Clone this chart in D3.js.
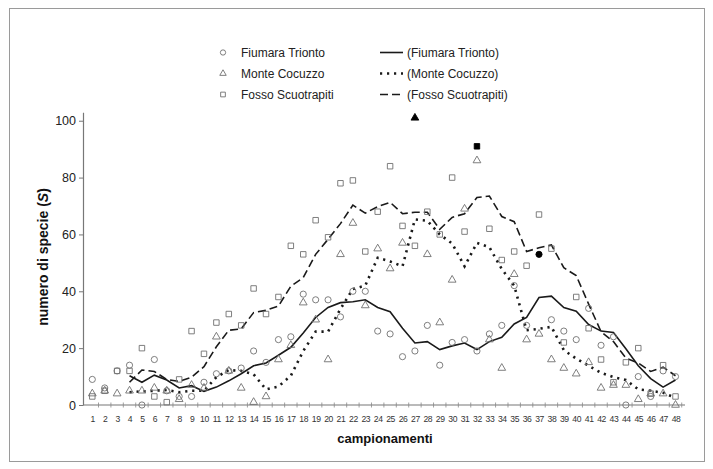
<!DOCTYPE html>
<html>
<head>
<meta charset="utf-8">
<script src="https://cdn.jsdelivr.net/npm/d3@7"></script>
<style>
  html, body { margin: 0; padding: 0; background: #fff; }
  svg { display: block; font-family: "Liberation Sans", Arial, sans-serif; }
</style>
</head>
<body>
<svg id="chart" width="713" height="469"></svg>
<script>
// ---- data ----
const categories = d3.range(1, 49);
const yTicks = [0, 20, 40, 60, 80, 100];
const seriesNames = ["Fiumara Trionto", "Monte Cocuzzo", "Fosso Scuotrapiti"];

const fiumaraTrionto = [9,6,12,14,0,16,5,3,3,8,11,12,13,19,15,23,24,39,37,37,31,40,40,26,25,17,19,28,14,22,23,19,25,28,42,28,53,30,26,23,34,21,24,0,10,3,12,10];
const monteCocuzzo   = [4,5,4,5,5,6,5,2,7,6,24,12,6,1,3,16,21,36,30,16,53,64,35,55,48,57,101,53,29,44,69,86,23,13,46,23,25,16,13,11,15,6,7,7,2,4,4,0];
const fossoScuotrapiti = [3,5,12,12,20,3,1,9,26,18,29,32,28,41,32,38,56,53,65,59,78,79,54,68,84,63,56,68,60,80,61,91,62,51,54,49,67,55,22,38,27,16,8,15,20,4,14,3];

// trend lines (start at sample 4)
const lineFiumara = [10.3,8,10.5,8.8,6,6.8,4.8,6.3,8.5,11,13.8,14.8,17.5,20.3,25.3,30.8,34.3,36,36.3,37,34.3,32.8,27,21.8,22.3,19.5,20.8,21.8,19.5,22.3,23.8,28.5,30.8,37.8,38.3,34.3,33,28.3,26,25.5,19.8,13.8,9.3,6.3,8.8];
const lineMonte = [4.5,4.8,5,5.3,4.5,5,5,9.8,12.3,12,10.8,5.5,6.5,10.3,19,25.8,25.8,33.8,40.8,42,51.8,50.5,48.8,65.3,64.8,60,56.8,48.8,57,55.5,47.8,42,26.3,26.8,27.5,19.3,16.3,13.8,11.3,9.8,8.8,5.5,5,4.3,2.5];
const lineFosso = [8,12.3,11.8,9,8.3,9.8,13.5,20.5,26.3,26.8,32.5,33.3,34.8,41.8,44.8,53,58.3,63.8,70.3,67.5,69.8,71.3,67.3,67.8,67.8,61.8,66,67.3,73,73.5,66.3,64.5,54,55.3,56.3,48.3,45.5,35.5,25.8,22.3,16.5,14.8,11.8,13.3,10.3];
const lineStart = 4;

// ---- layout ----
const svg = d3.select("#chart");
svg.append("rect").attr("x", 9.5).attr("y", 8.5).attr("width", 695).attr("height", 453)
  .attr("fill", "#fff").attr("stroke", "#9a9a9a").attr("stroke-width", 1);

const x = d3.scalePoint().domain(categories).range([92.3, 675.5]);
const y = d3.scaleLinear().domain([0, 103]).range([405, 112.2]);
const step = x.step();

const markerColor = "#707070";
const lineColor = "#1a1a1a";

// Y axis
const yAxis = d3.axisLeft(y).tickValues(yTicks).tickSize(4).tickSizeOuter(0).tickPadding(3);
const gy = svg.append("g").attr("transform", "translate(83,0)").call(yAxis);
gy.select(".domain").attr("stroke", "#777").attr("stroke-width", 1.2);
gy.selectAll(".tick line").attr("stroke", "#777");
gy.selectAll(".tick text").attr("font-size", 12.5).attr("fill", "#222")
  .attr("font-family", "Liberation Sans, Arial, sans-serif");

// X axis
svg.append("line").attr("x1", 83).attr("x2", 685).attr("y1", 405).attr("y2", 405)
  .attr("stroke", "#777").attr("stroke-width", 1.2);
const bounds = categories.map(c => x(c) + step / 2);
svg.append("g").selectAll("line").data(bounds).join("line")
  .attr("x1", d => d).attr("x2", d => d).attr("y1", 402.5).attr("y2", 407.5)
  .attr("stroke", "#888").attr("stroke-width", 0.8);
const xAxis = d3.axisBottom(x).tickSize(0).tickPadding(11);
const gx = svg.append("g").attr("transform", "translate(0,405)").call(xAxis);
gx.select(".domain").remove();
gx.selectAll(".tick text").attr("font-size", 8.6).attr("fill", "#333")
  .attr("font-family", "Liberation Sans, Arial, sans-serif").attr("letter-spacing", -0.4);

// axis titles
svg.append("text").attr("x", 385).attr("y", 443).attr("text-anchor", "middle")
  .attr("font-size", 13).attr("font-weight", "bold").attr("fill", "#111").text("campionamenti");
const yt = svg.append("text").attr("transform", "translate(48,257) rotate(-90)")
  .attr("text-anchor", "middle").attr("font-size", 14).attr("font-weight", "bold").attr("fill", "#111");
yt.append("tspan").text("numero di specie (");
yt.append("tspan").attr("font-style", "italic").text("S");
yt.append("tspan").text(")");

// trend lines
function drawLine(vals, dash, width) {
  const pts = vals.map((v, i) => [categories[i + lineStart - 1], v]);
  svg.append("path").datum(pts)
    .attr("d", d3.line().x(d => x(d[0])).y(d => y(d[1])))
    .attr("fill", "none").attr("stroke", lineColor).attr("stroke-width", width)
    .attr("stroke-dasharray", dash);
}
drawLine(lineFiumara, null, 1.6);
drawLine(lineMonte, "2.2,4.8", 2.6);
drawLine(lineFosso, "8,4", 1.6);

// markers
function maxIndex(a) { return a.indexOf(d3.max(a)); }
const sym = {
  circle: d3.symbol().type(d3.symbolCircle).size(30),
  triangle: d3.symbol().type(d3.symbolTriangle).size(26),
  square: d3.symbol().type(d3.symbolSquare).size(30)
};
function drawPoints(vals, kind) {
  const mi = maxIndex(vals);
  svg.append("g").selectAll("path").data(vals).join("path")
    .attr("transform", (d, i) => `translate(${x(categories[i])},${y(d)})`)
    .attr("d", sym[kind])
    .attr("fill", (d, i) => i === mi ? "#000" : "none")
    .attr("stroke", (d, i) => i === mi ? "#000" : markerColor)
    .attr("stroke-width", 0.9);
}
drawPoints(fiumaraTrionto, "circle");
drawPoints(monteCocuzzo, "triangle");
drawPoints(fossoScuotrapiti, "square");

// legend
const rows = [52.5, 73.5, 94.5];
const kinds = [d3.symbolCircle, d3.symbolTriangle, d3.symbolSquare];
const dashes = [null, "2.2,4.8", "8,4"];
const widths = [1.6, 2.6, 1.6];
const lg = svg.append("g");
seriesNames.forEach((name, i) => {
  lg.append("path").attr("transform", `translate(223,${rows[i]})`)
    .attr("d", d3.symbol().type(kinds[i]).size(i === 1 ? 18 : 22))
    .attr("fill", "none").attr("stroke", markerColor).attr("stroke-width", 0.9);
  lg.append("text").attr("x", 241).attr("y", rows[i]).attr("dy", "0.35em")
    .attr("font-size", 12).attr("fill", "#222").text(name);
  lg.append("line").attr("x1", 380).attr("x2", 403).attr("y1", rows[i]).attr("y2", rows[i])
    .attr("stroke", lineColor).attr("stroke-width", widths[i]).attr("stroke-dasharray", dashes[i]);
  lg.append("text").attr("x", 407).attr("y", rows[i]).attr("dy", "0.35em")
    .attr("font-size", 12).attr("fill", "#222").text("(" + name + ")");
});
</script>
</body>
</html>
